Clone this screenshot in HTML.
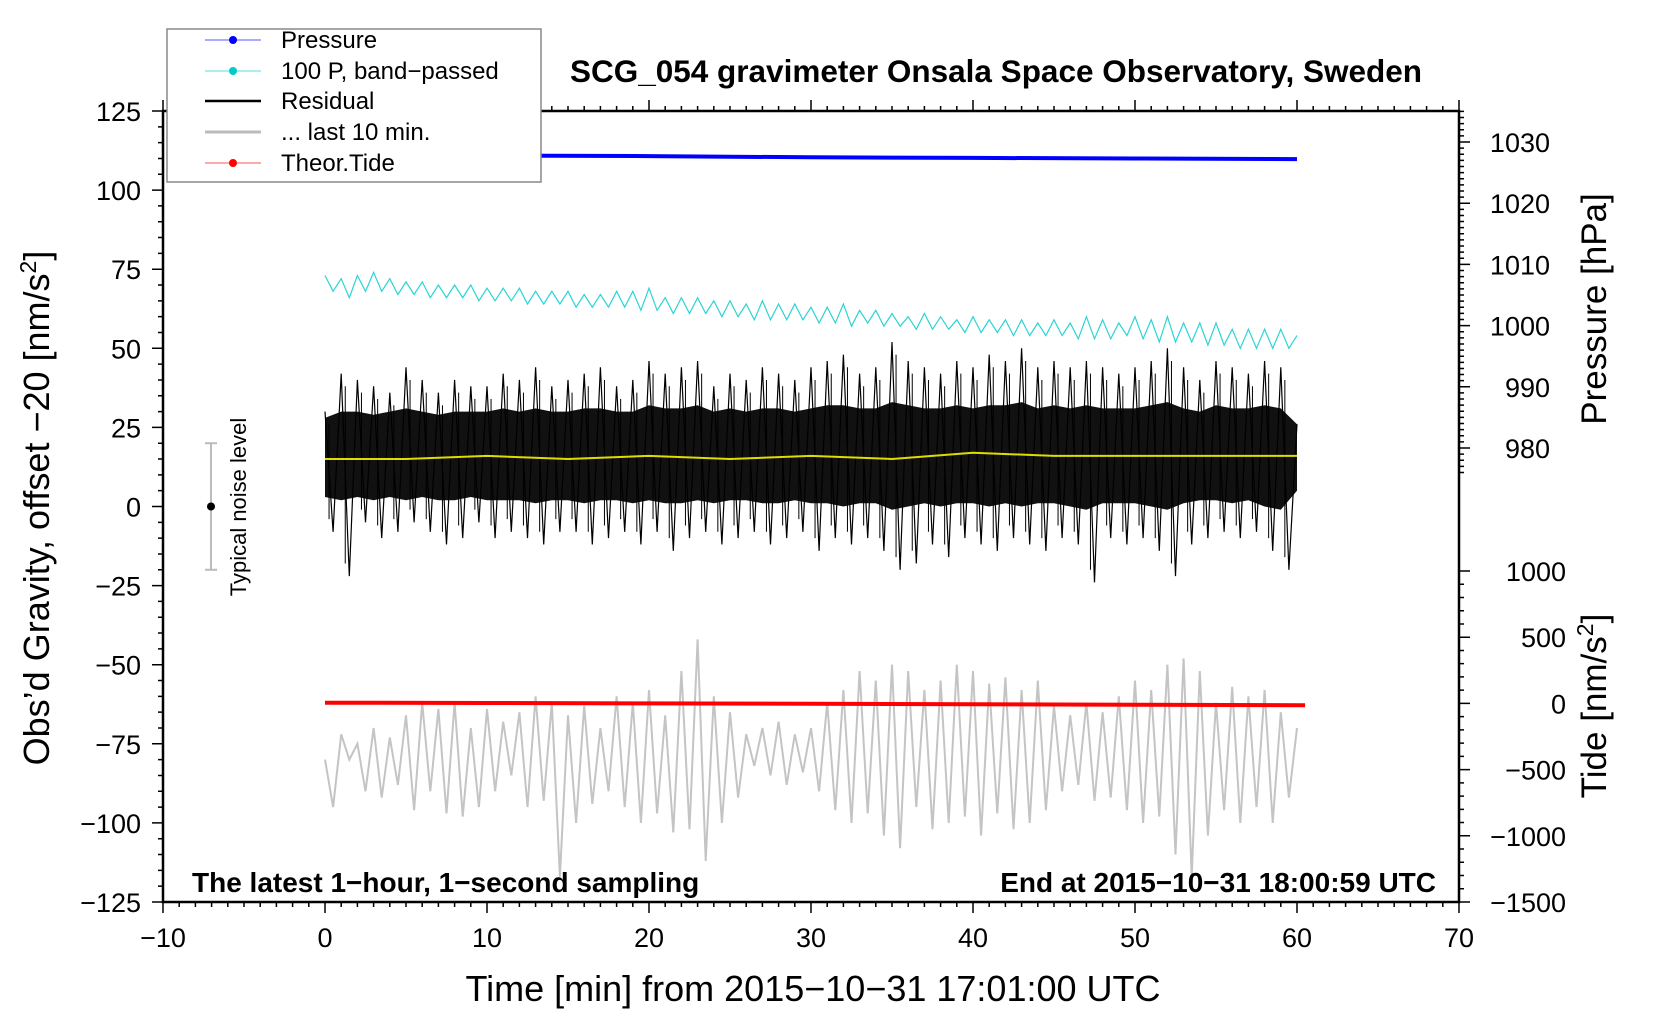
<!DOCTYPE html>
<html><head><meta charset="utf-8">
<style>
html,body{margin:0;padding:0;background:#fff;}
svg{display:block;font-family:"Liberation Sans",Arial,sans-serif;}
</style></head>
<body>
<svg id="chart" width="1660" height="1020" viewBox="0 0 1660 1020" xmlns="http://www.w3.org/2000/svg">
<rect x="0" y="0" width="1660" height="1020" fill="#fff"/>
<g id="marks"></g>
<g id="axes"></g>
<text x="996" y="82" font-size="31.5" font-weight="bold" text-anchor="middle">SCG_054 gravimeter Onsala Space Observatory, Sweden</text>
<text x="192" y="892" font-size="28" font-weight="bold">The latest 1−hour, 1−second sampling</text>
<text x="1436" y="892" font-size="28" font-weight="bold" text-anchor="end">End at 2015−10−31 18:00:59 UTC</text>
<text x="813" y="1001" font-size="36" text-anchor="middle">Time [min] from 2015−10−31 17:01:00 UTC</text>
<text transform="translate(49,508) rotate(-90)" font-size="36" text-anchor="middle">Obs’d Gravity, offset −20 [nm/s<tspan font-size="23" dy="-13">2</tspan><tspan dy="13">]</tspan></text>
<text transform="translate(1606,309) rotate(-90)" font-size="35" text-anchor="middle">Pressure [hPa]</text>
<text transform="translate(1606,706) rotate(-90)" font-size="35" text-anchor="middle">Tide [nm/s<tspan font-size="23" dy="-13">2</tspan><tspan dy="13">]</tspan></text>
<g>
<line id="nl" x1="211" x2="211" stroke="#bbb" stroke-width="2"/>
<line id="nlt" x1="205" x2="217" stroke="#bbb" stroke-width="2"/>
<line id="nlb" x1="205" x2="217" stroke="#bbb" stroke-width="2"/>
<circle id="nld" cx="211" r="4" fill="#000"/>
<text transform="translate(246,507) rotate(-90)" font-size="22" text-anchor="middle">Typical noise level</text>
</g>
<g>
<rect x="167" y="29" width="374" height="153" fill="#fff" stroke="#888" stroke-width="1.5"/>
<g><line x1="205" x2="261" y1="40" y2="40" stroke="#55f" stroke-width="1"/><circle cx="233" cy="40" r="4" fill="#00f"/><text x="281" y="48" font-size="24">Pressure</text></g>
<g><line x1="205" x2="261" y1="71" y2="71" stroke="#5dd" stroke-width="1"/><circle cx="233" cy="71" r="4" fill="#0cc"/><text x="281" y="79" font-size="24">100 P, band−passed</text></g>
<g><line x1="205" x2="261" y1="101" y2="101" stroke="#000" stroke-width="2.5"/><text x="281" y="109" font-size="24">Residual</text></g>
<g><line x1="205" x2="261" y1="132" y2="132" stroke="#bbb" stroke-width="3"/><text x="281" y="140" font-size="24">... last 10 min.</text></g>
<g><line x1="205" x2="261" y1="163" y2="163" stroke="#f55" stroke-width="1"/><circle cx="233" cy="163" r="4" fill="#f00"/><text x="281" y="171" font-size="24">Theor.Tide</text></g>
</g>
</svg>
<script>
// ---- data ----
const minutes = [0,1,2,3,4,5,6,7,8,9,10,11,12,13,14,15,16,17,18,19,20,21,22,23,24,25,26,27,28,29,30,31,32,33,34,35,36,37,38,39,40,41,42,43,44,45,46,47,48,49,50,51,52,53,54,55,56,57,58,59,60];
const pressureMinutes = [0,10,20,30,40,50,60];
const pressureHPa = [1027.9,1027.8,1027.7,1027.5,1027.4,1027.3,1027.2];
const cyanHi = [73,72,73,74,72,71,71,70,70,70,69,69,69,68,68,68,67,67,68,68,69,66,66,66,65,65,64,65,64,64,63,63,64,62,62,61,60,61,60,59,60,59,59,59,58,59,58,60,59,58,60,59,60,58,58,58,56,56,56,56,54];
const cyanLo = [68,66,68,68,67,67,66,66,66,65,65,65,64,64,64,63,63,63,63,62,62,61,61,61,60,60,59,59,59,59,58,58,57,58,57,57,56,56,56,55,55,55,54,54,54,54,53,53,53,54,53,52,52,52,51,51,50,50,50,50,54];
const residualPeakHi = [30,42,40,38,36,44,40,36,40,38,38,42,40,44,38,40,42,44,38,40,46,42,44,46,38,42,40,44,42,40,44,46,48,42,44,52,46,44,42,46,44,48,46,50,44,46,44,46,44,42,44,46,50,44,40,46,44,42,46,44,26];
const residualPeakLo = [-8,-22,-5,-10,-8,-5,-8,-12,-10,-5,-10,-8,-10,-12,-8,-8,-12,-10,-8,-12,-8,-14,-10,-8,-12,-10,-8,-12,-10,-8,-14,-10,-12,-10,-14,-20,-18,-12,-16,-10,-12,-14,-10,-12,-14,-10,-12,-24,-10,-12,-10,-14,-22,-12,-10,-8,-10,-8,-14,-20,-5];
const residualCoreHi = [28,30,30,29,30,31,30,29,30,30,30,31,30,31,30,30,31,31,30,30,32,31,31,32,30,31,30,31,31,30,31,32,32,31,31,33,32,31,31,32,31,32,32,33,31,32,31,32,31,31,31,32,33,31,30,32,31,31,32,31,26];
const residualCoreLo = [3,2,3,2,3,2,3,2,2,3,2,2,2,1,2,2,1,2,2,1,2,1,1,2,1,2,2,1,1,2,1,1,0,1,1,-1,0,1,0,1,1,0,1,0,1,1,0,-1,1,1,1,0,-1,1,2,2,1,2,0,-1,5];
const yellowMinutes = [0,5,10,15,20,25,30,35,40,45,50,55,60];
const yellowValues = [15,15,16,15,16,15,16,15,17,16,16,16,16];
const grayHi = [-80,-72,-75,-70,-73,-66,-62,-64,-62,-70,-64,-68,-65,-60,-62,-66,-63,-70,-60,-62,-58,-66,-52,-42,-60,-65,-72,-70,-68,-72,-70,-62,-58,-52,-55,-50,-52,-58,-55,-50,-52,-56,-54,-58,-55,-63,-66,-62,-65,-60,-55,-58,-50,-48,-52,-62,-57,-60,-58,-65,-70];
const grayLo = [-95,-80,-90,-92,-88,-96,-90,-97,-98,-95,-90,-85,-95,-93,-117,-100,-94,-90,-95,-100,-97,-103,-102,-112,-100,-92,-82,-85,-88,-84,-90,-96,-100,-97,-104,-108,-95,-102,-100,-98,-104,-97,-102,-100,-96,-90,-88,-93,-92,-96,-100,-98,-110,-117,-104,-96,-100,-95,-100,-92,-70];
const tideMinutes = [0,10,20,30,40,50,60.5];
const tideValues = [5,3,0,-3,-6,-10,-14];
const xTicks = [-10,0,10,20,30,40,50,60,70];
const yTicks = [125,100,75,50,25,0,-25,-50,-75,-100,-125];
const pTicks = [1030,1020,1010,1000,990,980];
const tTicks = [1000,500,0,-500,-1000,-1500];
const noiseLevel = [20,0,-20];

// ---- scales ----
const L=163,R=1459,T=111,B=902;
const X=t=>L+(t+10)*(R-L)/80;
const Y=v=>T+(125-v)*(B-T)/250;
const YP=p=>142+(1030-p)*6.12;
const YT=t=>B-(t+1500)*0.1324;
const NS='http://www.w3.org/2000/svg';
const marks=document.getElementById('marks');
const axes=document.getElementById('axes');
function mk(tag,attrs,parent){const e=document.createElementNS(NS,tag);for(const k in attrs)e.setAttribute(k,attrs[k]);(parent||marks).appendChild(e);return e;}
function pts(a){return a.map(p=>p[0].toFixed(1)+','+p[1].toFixed(1)).join(' ');}

document.getElementById('nl').setAttribute('y1',Y(noiseLevel[0]));
document.getElementById('nl').setAttribute('y2',Y(noiseLevel[2]));
document.getElementById('nlt').setAttribute('y1',Y(noiseLevel[0]));document.getElementById('nlt').setAttribute('y2',Y(noiseLevel[0]));
document.getElementById('nlb').setAttribute('y1',Y(noiseLevel[2]));document.getElementById('nlb').setAttribute('y2',Y(noiseLevel[2]));
document.getElementById('nld').setAttribute('cy',Y(noiseLevel[1]));

let g=[];minutes.forEach((m,i)=>{g.push([X(m),Y(grayHi[i])]);if(i<minutes.length-1)g.push([X(m+0.5),Y(grayLo[i])]);});
let e=mk('polyline',{points:pts(g),fill:'none',stroke:'#c4c4c4','stroke-width':2});



let core=minutes.map((m,i)=>[X(m),Y(residualCoreHi[i])]).concat(minutes.map((m,i)=>[X(m),Y(residualCoreLo[i])]).reverse());
e=mk('polygon',{points:pts(core),fill:'#111'});


let s=[];minutes.forEach((m,i)=>{s.push([X(m),Y(residualPeakHi[i])]);if(i<minutes.length-1)s.push([X(m+0.5),Y(residualPeakLo[i])]);});
e=mk('polyline',{points:pts(s),fill:'none',stroke:'#000','stroke-width':1.2});


minutes.forEach((m,i)=>{if(i>=minutes.length-1)return;const l=mk('line',{x1:X(m+0.25),x2:X(m+0.25),y1:Y(residualPeakHi[i]-4),y2:Y(residualPeakLo[i]+4),stroke:'#000','stroke-width':1});

});

e=mk('polyline',{points:pts(yellowMinutes.map((m,i)=>[X(m),Y(yellowValues[i])])),fill:'none',stroke:'#dd0','stroke-width':2});



let c=[];minutes.forEach((m,i)=>{c.push([X(m),Y(cyanHi[i])]);if(i<minutes.length-1)c.push([X(m+0.5),Y(cyanLo[i])]);});
e=mk('polyline',{points:pts(c),fill:'none',stroke:'#2cd4d4','stroke-width':1.2});



e=mk('polyline',{points:pts(pressureMinutes.map((m,i)=>[X(m),YP(pressureHPa[i])])),fill:'none',stroke:'#00f','stroke-width':4});



e=mk('polyline',{points:pts(tideMinutes.map((m,i)=>[X(m),YT(tideValues[i])])),fill:'none',stroke:'#f00','stroke-width':4});



e=mk('rect',{x:L,y:T,width:R-L,height:B-T,fill:'none',stroke:'#000','stroke-width':2.5},axes);


let tk='';
for(let t=-10;t<=70;t++){const x=X(t),len=(t%10===0)?11:5;tk+=`M${x},${B}v${len}M${x},${T}v${-len}`;}
for(let v=-125;v<=125;v+=5){const y=Y(v),len=(v%25===0)?11:5;tk+=`M${L},${y}h${-len}`;}
for(let p=976;p<=1035;p++){const y=YP(p),len=(p%10===0)?11:5;tk+=`M${R},${y}h${len}`;}
for(let t=-1500;t<=1000;t+=100){const y=YT(t),len=(t%500===0)?11:5;tk+=`M${R},${y}h${len}`;}
e=mk('path',{d:tk,stroke:'#000','stroke-width':1.5,fill:'none'},axes);


function lab(x,y,txt,anchor,name){const t=mk('text',{x:x,y:y,'font-size':27,'text-anchor':anchor},axes);t.textContent=txt;

}
const fmt=v=>String(v).replace('-','−');
xTicks.forEach(t=>lab(X(t),947,fmt(t),'middle','x-tick-label'));
yTicks.forEach(v=>lab(141,Y(v)+10,fmt(v),'end','y-tick-label'));
pTicks.forEach(p=>lab(1550,YP(p)+10,fmt(p),'end','pressure-tick-label'));
tTicks.forEach(t=>lab(1566,YT(t)+10,fmt(t),'end','tide-tick-label'));
</script>
</body></html>
